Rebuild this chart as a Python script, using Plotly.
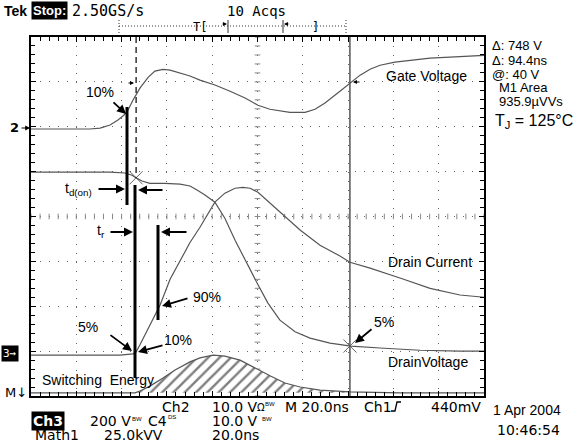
import plotly.graph_objects as go
import numpy as np

# time in ns (20 ns/div), level in screen divisions (0 = bottom of graticule)
gate_t = [0, 12.8, 26.0, 30.5, 34.9, 38.4, 41.1, 42.8, 45.0, 48.1, 51.7, 54.7, 58.3, 61.4, 65.8, 70.2,
          74.6, 81.2, 87.9, 94.5, 100.2, 105.5, 114.3, 121.0, 125.4, 129.8, 136.4, 140.8, 145.3, 149.7,
          154.1, 160.7, 167.3, 176.2, 185.0, 193.8, 200]
gate_v = [5.95, 5.95, 5.95, 5.97, 6.04, 6.15, 6.26, 6.37, 6.59, 6.86, 7.10, 7.24, 7.28, 7.26, 7.19, 7.13,
          7.04, 6.93, 6.79, 6.64, 6.48, 6.39, 6.32, 6.32, 6.39, 6.53, 6.79, 6.97, 7.15, 7.28,
          7.37, 7.44, 7.48, 7.53, 7.55, 7.57, 7.59]

vd_t = [0, 12.8, 26.0, 34.9, 41.5, 44.6, 46.8, 49.0, 52.5, 59.2, 65.8, 70.2, 73.3, 76.8, 81.2, 85.6,
        90.1, 94.5, 99.8, 104.6, 109.9, 116.6, 123.2, 132.0, 141.3, 154.1, 171.7, 189.4, 200]
vd_v = [4.99, 4.99, 4.99, 4.99, 4.97, 4.92, 4.85, 4.79, 4.74, 4.74, 4.72, 4.68, 4.59, 4.48, 4.32, 3.96,
        3.47, 3.03, 2.52, 2.07, 1.69, 1.43, 1.29, 1.18, 1.11, 1.07, 1.02, 1.00, 1.00]

id_t = [0, 21.6, 39.3, 45.0, 46.4, 48.1, 50.3, 52.5, 57.0, 61.4, 65.8, 70.2, 74.6, 81.2, 85.6, 90.1,
        93.6, 96.7, 100.2, 105.5, 113.5, 118.8, 127.6, 136.4, 140.8, 149.7, 162.9, 176.2, 189.4, 200]
id_v = [0.91, 0.91, 0.91, 0.94, 0.98, 1.14, 1.36, 1.58, 2.03, 2.60, 3.02, 3.42, 3.76, 4.32, 4.52, 4.63,
        4.65, 4.63, 4.54, 4.30, 3.92, 3.70, 3.36, 3.12, 2.98, 2.85, 2.63, 2.40, 2.25, 2.20]

e_t = [0, 30.5, 45.9, 48.1, 52.5, 58.3, 63.6, 70.2, 74.6, 80.4, 85.6, 92.3, 98.9, 105.5, 112.1, 118.8,
       127.6, 140.8, 162.9, 200]
e_v = [0.07, 0.07, 0.07, 0.11, 0.22, 0.40, 0.58, 0.76, 0.85, 0.91, 0.89, 0.80, 0.62, 0.45, 0.29, 0.20,
       0.13, 0.09, 0.07, 0.07]

cursor_t = [46.4, 140.8]

SANS = "Liberation Sans"
TEK = "DejaVu Sans"
MONO = "DejaVu Sans Mono"
TRACE = "#555555"

W, H = 579, 445
L, R, T, B = 31, 95, 37, 49
PW, PH = W - L - R, H - T - B


def P(px, py):
    return (px - L) / PW, (H - B - py) / PH


fig = go.Figure()

# graticule centre-line ticks
ctr_y = np.arange(0, 8.001, 0.2)
ctr_x = np.arange(0, 200.001, 4)
fig.add_trace(go.Scatter(x=[100] * len(ctr_y), y=ctr_y, mode="markers", hoverinfo="skip",
                         marker=dict(symbol="line-ew", size=4, line=dict(width=1, color="#888"))))
fig.add_trace(go.Scatter(x=ctr_x, y=[4] * len(ctr_x), mode="markers", hoverinfo="skip",
                         marker=dict(symbol="line-ns", size=4, line=dict(width=1, color="#888"))))

# switching energy hatched area between cursors
mask = [(t > cursor_t[0]) and (t < cursor_t[1]) for t in e_t]
h_t = [cursor_t[0]] + [t for t, m in zip(e_t, mask) if m] + [cursor_t[1]]
h_v = [float(np.interp(cursor_t[0], e_t, e_v))] + [v for v, m in zip(e_v, mask) if m] + \
      [float(np.interp(cursor_t[1], e_t, e_v))]
base = e_v[0]
fig.add_trace(go.Scatter(x=[cursor_t[0], cursor_t[1]], y=[base, base], mode="lines",
                         line=dict(width=0, color="rgba(0,0,0,0)"), hoverinfo="skip"))
fig.add_trace(go.Scatter(x=h_t, y=h_v, mode="lines", fill="tonexty", line=dict(width=0),
                         fillcolor="rgba(0,0,0,0)",
                         fillpattern=dict(shape="/", size=8, solidity=0.3, fgcolor="black",
                                          bgcolor="white"),
                         hoverinfo="skip"))

for tx, ty in [(gate_t, gate_v), (vd_t, vd_v), (id_t, id_v), (e_t, e_v)]:
    fig.add_trace(go.Scatter(x=tx, y=ty, mode="lines", line=dict(color=TRACE, width=1.2),
                             hoverinfo="skip"))

# cursor crossing marks on drain voltage
fig.add_trace(go.Scatter(x=cursor_t, y=[float(np.interp(c, vd_t, vd_v)) for c in cursor_t],
                         mode="markers", hoverinfo="skip",
                         marker=dict(symbol="x-thin", size=13, line=dict(width=1, color="#666"))))

shapes = []
# cursors
shapes.append(dict(type="line", xref="x", yref="y", x0=cursor_t[0], x1=cursor_t[0],
                   y0=8, y1=float(np.interp(cursor_t[0], vd_t, vd_v)),
                   line=dict(color="black", width=1.2, dash="6px,4px")))
shapes.append(dict(type="line", xref="x", yref="y", x0=cursor_t[1], x1=cursor_t[1], y0=0, y1=8,
                   line=dict(color="#555", width=1.5)))


def vline(px, py0, py1, w=3, color="black", dash=None):
    x0, y0 = P(px, py0)
    _, y1 = P(px, py1)
    d = dict(type="line", xref="paper", yref="paper", x0=x0, x1=x0, y0=y0, y1=y1,
             line=dict(color=color, width=w))
    if dash:
        d["line"]["dash"] = dash
    shapes.append(d)


def hline(px0, px1, py, w=1, color="black", dash=None):
    x0, y0 = P(px0, py)
    x1, _ = P(px1, py)
    d = dict(type="line", xref="paper", yref="paper", x0=x0, x1=x1, y0=y0, y1=y0,
             line=dict(color=color, width=w))
    if dash:
        d["line"]["dash"] = dash
    shapes.append(d)


def polyline(points, w=1.2, color="black"):
    pts = [P(*p) for p in points]
    path = "M " + " L ".join(f"{x:.5f},{y:.5f}" for x, y in pts)
    shapes.append(dict(type="path", xref="paper", yref="paper", path=path,
                       line=dict(color=color, width=w)))


# thick measurement bars
vline(127, 107, 205)
vline(135, 185, 378)
vline(158, 225, 320)

# trigger / record bar on top
hline(119, 346, 26, w=1, color="#333", dash="1px,2px")
vline(119, 20, 33, w=1, color="#333", dash="1px,2px")
vline(346, 20, 33, w=1, color="#333", dash="1px,2px")
vline(228, 20, 33, w=1, color="#333")
vline(283, 20, 33, w=1, color="#333")

# trigger slope glyph (rising edge)
polyline([(391, 411), (395, 411), (397, 402), (401, 402)], w=1.3)

ann = []


def text(px, py, s, size=14, family=SANS, xanchor="center", color="black", bg=None, **kw):
    x, y = P(px, py)
    d = dict(x=x, y=y, xref="paper", yref="paper", text=s, showarrow=False, xanchor=xanchor,
             yanchor="middle", font=dict(family=family, size=size, color=color))
    if bg:
        d["bgcolor"] = bg
        d["borderpad"] = 1
    d.update(kw)
    ann.append(d)


def arrow(tip, tail, w=1.8, head=2, size=1.0):
    x, y = P(*tip)
    ann.append(dict(x=x, y=y, xref="paper", yref="paper", text="", showarrow=True,
                    ax=tail[0] - tip[0], ay=tail[1] - tip[1], arrowhead=head, arrowwidth=w,
                    arrowsize=size, arrowcolor="black", standoff=0))


# header
text(2, 11, "<b>Tek</b>", size=14, xanchor="left")
text(31, 10, "<b>Stop:</b>", size=13, xanchor="left", color="white", bg="black")
text(70, 11, "2.50GS/s", size=15, family=MONO, xanchor="left")
text(225, 11, "10 Acqs", size=14, family=MONO, xanchor="left")
text(200, 27, "T[", size=12, family=MONO)
text(315, 27, "]", size=12, family=MONO)
arrow((227, 24), (221, 24), w=1, head=2, size=0.8)
arrow((284, 24), (290, 24), w=1, head=2, size=0.8)

# left channel markers
text(14, 128, "<b>2</b>", size=13, family=TEK)
arrow((30, 128), (20, 128), w=1.2, head=2, size=0.8)
text(1, 353, "3→", size=11, family=MONO, xanchor="left", color="white", bg="black")
text(3, 392, "M↓", size=13, family=TEK, xanchor="left")

# trace labels
text(426, 76, "Gate Voltage", size=14)
text(430, 262, "Drain Current", size=14)
text(428, 362, "DrainVoltage", size=14)
text(98, 380, "Switching  Energy", size=14)
text(100, 92, "10%", size=14)
text(88, 327, "5%", size=14)
text(207, 297, "90%", size=14)
text(178, 340, "10%", size=14)
text(384, 322, "5%", size=14)
text(78, 189, "t<sub>d(on)</sub>", size=14)
text(101, 231, "t<sub>r</sub>", size=14)

# annotation arrows
arrow((126, 114), (112, 101))
arrow((125, 189), (97, 189))
arrow((138, 190), (164, 190))
arrow((133, 232), (109, 232))
arrow((161, 232), (188, 232))
arrow((162, 306), (189, 298))
arrow((138, 352), (164, 345))
arrow((132, 351), (109, 334))
arrow((355, 343), (373, 328))
# cursor level markers
arrow((134, 83), (127, 83), w=1, head=2, size=0.8)
arrow((353, 82), (361, 82), w=1, head=2, size=0.8)

# right readouts
text(490, 46, "Δ: 748 V", size=13, xanchor="left")
text(490, 60, "Δ: 94.4ns", size=13, xanchor="left")
text(490, 74, "@: 40 V", size=13, xanchor="left")
text(523, 88, "M1 Area", size=13)
text(531, 101, "935.9µVVs", size=13)
text(534, 122, "T<sub>J</sub> = 125°C", size=16)

# bottom readouts
text(160, 407, "Ch2", size=14, family=TEK, xanchor="left")
text(210, 407, "10.0 V", size=14, family=TEK, xanchor="left")
text(261, 407, "Ω", size=10, family=TEK, xanchor="center")
text(270, 404, "BW", size=6, family=SANS, xanchor="center")
text(283, 407, "M 20.0ns", size=14, family=TEK, xanchor="left")
text(362, 407, "Ch1", size=14, family=TEK, xanchor="left")
text(429, 407, "440mV", size=14, family=TEK, xanchor="left")
text(31, 421, "<b>Ch3</b>", size=14, family=TEK, xanchor="left", color="white", bg="black")
text(88, 421, "200 V", size=14, family=TEK, xanchor="left")
text(137, 419, "BW", size=6, family=SANS, xanchor="center")
text(146, 421, "C4", size=14, family=TEK, xanchor="left")
text(172, 417, "DS", size=6, family=SANS, xanchor="center")
text(210, 421, "10.0 V", size=14, family=TEK, xanchor="left")
text(267, 419, "BW", size=6, family=SANS, xanchor="center")
text(33, 435, "Math1", size=14, family=TEK, xanchor="left")
text(102, 435, "25.0kVV", size=14, family=TEK, xanchor="left")
text(210, 435, "20.0ns", size=14, family=TEK, xanchor="left")
text(491, 410, "1 Apr 2004", size=14, xanchor="left")
text(495, 430, "10:46:54", size=14, family=TEK, xanchor="left")

axis_common = dict(showticklabels=False, zeroline=False, showline=True, linecolor="black",
                   linewidth=1.5, mirror="ticks", ticks="inside", ticklen=5, tickcolor="black",
                   tickwidth=1, showgrid=True, gridcolor="#666", gridwidth=1, griddash="1px,8px",
                   fixedrange=True)
fig.update_layout(
    width=W, height=H, margin=dict(l=L, r=R, t=T, b=B), paper_bgcolor="white",
    plot_bgcolor="white", showlegend=False, shapes=shapes, annotations=ann,
    font=dict(family=SANS, color="black"),
    xaxis=dict(range=[0, 200], dtick=20, tick0=0,
               minor=dict(dtick=4, ticks="inside", ticklen=4, tickcolor="black", showgrid=False),
               **axis_common),
    yaxis=dict(range=[0, 8], dtick=1, tick0=0,
               minor=dict(dtick=0.2, ticks="inside", ticklen=4, tickcolor="black", showgrid=False),
               **axis_common),
)

fig.write_html("out.html", config={"displayModeBar": False},
               post_script="document.body.style.margin='0';document.body.style.overflow='hidden';")
